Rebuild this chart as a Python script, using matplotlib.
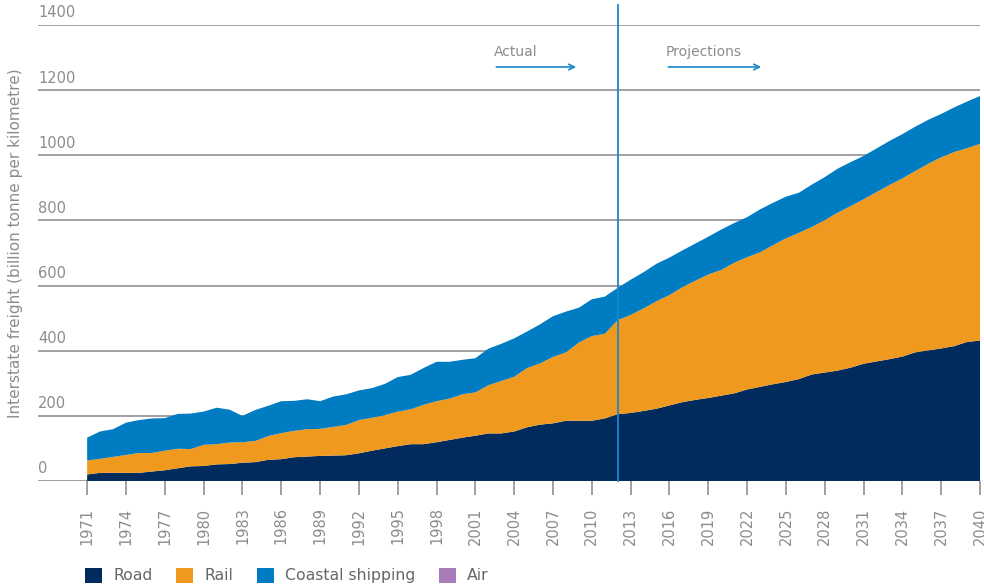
# Interstate freight task by mode, actual and projected (stacked area)

import matplotlib.pyplot as plt
import matplotlib as mpl
from matplotlib.patches import Patch

mpl.rcParams['font.family'] = ['DejaVu Sans']

years = list(range(1971, 2041))

road = [20, 25, 25, 25, 25, 29, 33, 39, 45, 46,
        51, 52, 56, 58, 65, 67, 73, 75, 77, 78,
        79, 85, 93, 100, 107, 113, 113, 119, 126, 133,
        139, 146, 146, 152, 165, 173, 177, 185, 185, 185,
        192, 205, 209, 215, 222, 232, 242, 249, 255, 262,
        269, 281, 289, 297, 304, 313, 327, 333, 339, 348,
        360, 367, 374, 382, 395, 401, 407, 414, 427, 431]

rail = [43, 43, 49, 55, 61, 57, 60, 60, 53, 65,
        62, 66, 63, 65, 73, 80, 81, 84, 83, 88,
        93, 102, 101, 102, 106, 107, 121, 126, 127, 133,
        133, 148, 161, 168, 182, 188, 204, 210, 240, 260,
        260, 289, 301, 315, 330, 339, 353, 366, 379, 386,
        401, 406, 413, 427, 441, 449, 453, 468, 485, 496,
        505, 520, 535, 547, 557, 573, 587, 596, 595, 604]

coastal = [70, 84, 85, 99, 101, 106, 100, 107, 109, 102,
           112, 101, 81, 95, 93, 98, 92, 92, 85, 93,
           94, 91, 91, 96, 106, 106, 113, 121, 113, 106,
           105, 112, 114, 118, 112, 120, 125, 125, 107, 113,
           114, 99, 108, 111, 115, 115, 113, 114, 116, 124,
           122, 123, 132, 130, 128, 123, 130, 132, 135, 135,
           133, 134, 135, 136, 136, 135, 133, 137, 143, 147]

# air is too small to see at this scale
air = [0] * 70

series_names = ['Road', 'Rail', 'Coastal shipping', 'Air']
colors = ['#002b5c', '#f0991f', '#007cc2', '#a77bb7']

y_ticks = [0, 200, 400, 600, 800, 1000, 1200, 1400]
x_ticks = list(range(1971, 2041, 3))

grey = '#8c8c8c'

fig = plt.figure(figsize=(9.84, 5.87), dpi=100)
ax = fig.add_axes([0.0386, 0.1806, 0.9574, 0.7768])

ax.stackplot(years, road, rail, coastal, air, colors=colors, linewidth=0, zorder=3)

ax.set_xlim(1967.2, 2040)
ax.set_ylim(0, 1400)

# gridlines with labels sitting just above them
for v in y_ticks:
    ax.axhline(v, color='#9a9a9a', lw=1.3, zorder=1)
    ax.text(0.0, v + 14, str(v), transform=ax.get_yaxis_transform(),
            ha='left', va='bottom', color=grey, fontsize=10.5)
ax.set_yticks([])

for s in ax.spines.values():
    s.set_visible(False)

ax.set_xticks(x_ticks)
ax.set_xticklabels([str(x) for x in x_ticks], rotation=90, color=grey, fontsize=10.5)
ax.tick_params(axis='x', length=10, width=1.3, color='#9a9a9a', pad=9)

fig.text(0.016, 0.585, 'Interstate freight (billion tonne per kilometre)', rotation=90,
         ha='center', va='center', color=grey, fontsize=11)

# actual / projection divider
ax.axvline(2012, ymin=0, ymax=1.043, color='#1b87c9', lw=1.3, clip_on=False, zorder=4)

ax.text(2002.4, 1317, 'Actual', color=grey, fontsize=10, ha='left', va='center')
ax.annotate('', xy=(2009.0, 1271), xytext=(2002.4, 1271),
            arrowprops=dict(arrowstyle='->', color='#1b87c9', lw=1.2))
ax.text(2015.7, 1317, 'Projections', color=grey, fontsize=10, ha='left', va='center')
ax.annotate('', xy=(2023.3, 1271), xytext=(2015.7, 1271),
            arrowprops=dict(arrowstyle='->', color='#1b87c9', lw=1.2))

handles = [Patch(facecolor=c, edgecolor='none') for c in colors]
leg = fig.legend(handles, series_names, loc='lower left', bbox_to_anchor=(0.072, -0.018),
                 ncol=4, frameon=False, fontsize=11.3, handlelength=1.1, handleheight=1.1,
                 handletextpad=0.7, columnspacing=1.5)
for t in leg.get_texts():
    t.set_color('#666666')

fig.savefig('out.png', dpi=100)
